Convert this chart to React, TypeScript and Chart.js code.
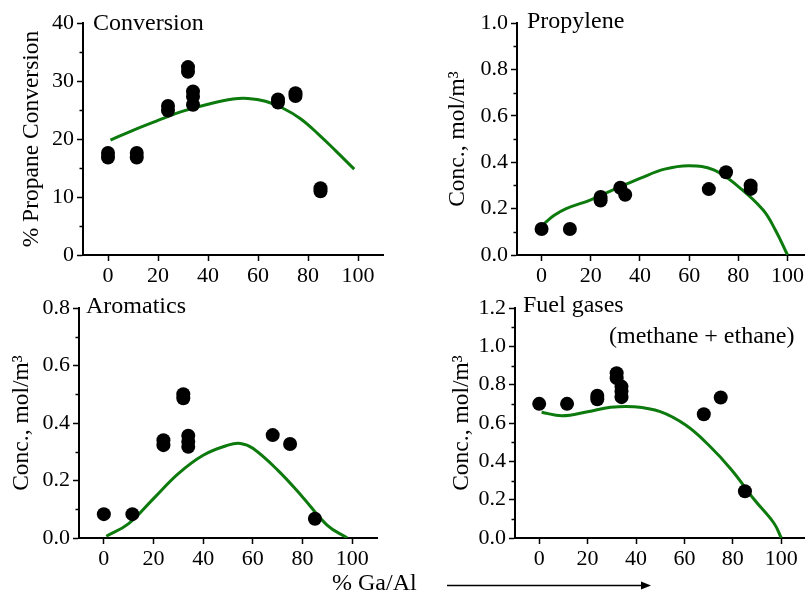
import React, { useEffect, useRef } from "react";
import { Chart, registerables } from "chart.js";

Chart.register(...registerables);

const FONT = "'Liberation Serif', 'Times New Roman', Times, serif";
const GREEN = "#0d7a0d";

const xTickValues = [0, 20, 40, 60, 80, 100];

// Panel 1: propane conversion (%)
const convX = [0, 0, 11.5, 11.5, 24, 24, 32, 32, 34, 34, 34, 68, 68, 75, 75, 85, 85];
const convY = [17.6, 16.8, 17.6, 16.8, 25.7, 24.9, 32.4, 31.6, 28.2, 27.3, 25.9, 26.8, 26.3, 27.9, 27.4, 11.5, 11.0];
const convFitX = [1, 10, 20, 30, 40, 50, 56, 63, 70, 77, 84, 91, 98.5];
const convFitY = [19.8, 21.5, 23.2, 24.8, 26.0, 26.9, 27.0, 26.5, 25.3, 23.5, 20.9, 18.0, 14.8];

// Panel 2: propylene (mol/m3)
const propX = [0, 11.5, 24, 24, 32, 34, 68, 75, 85, 85];
const propY = [0.112, 0.112, 0.25, 0.235, 0.29, 0.26, 0.284, 0.357, 0.3, 0.285];
const propFitX = [1, 5, 10, 20, 30, 40, 50, 60, 70, 80, 90, 95, 100];
const propFitY = [0.135, 0.17, 0.2, 0.238, 0.285, 0.33, 0.37, 0.385, 0.367, 0.295, 0.195, 0.109, 0.0];

// Panel 3: aromatics (mol/m3)
const aroX = [0, 11.5, 24, 24, 32, 32, 34, 34, 34, 68, 75, 85];
const aroY = [0.083, 0.083, 0.34, 0.323, 0.5, 0.486, 0.356, 0.335, 0.317, 0.358, 0.327, 0.067];
const aroFitX = [1, 10, 20, 30, 40, 50, 55, 60, 70, 80, 90, 98];
const aroFitY = [0.006, 0.05, 0.137, 0.224, 0.288, 0.323, 0.329, 0.312, 0.236, 0.143, 0.044, 0.0];

// Panel 4: fuel gases (mol/m3)
const fuelX = [0, 11.5, 24, 24, 32, 32, 34, 34, 34, 68, 75, 85];
const fuelY = [0.7, 0.7, 0.742, 0.724, 0.86, 0.834, 0.79, 0.764, 0.735, 0.646, 0.733, 0.244];
const fuelFitX = [1, 9.5, 20, 29.5, 39, 50, 60.5, 70, 79.5, 89, 97, 100];
const fuelFitY = [0.656, 0.638, 0.659, 0.682, 0.685, 0.659, 0.589, 0.485, 0.355, 0.198, 0.077, 0.0];

type Label = { text: string; dx: number; dy: number };
type Spec = {
  left: number; top: number; width: number; height: number;
  yAxisWidth: number; padTop: number; xAxisHeight: number; padRight: number;
  xMin: number; xMax: number; yMax: number; yStep: number; decimals: number;
  yTitle: string; titleCenter: number; labels: Label[];
  px: number[]; py: number[]; fx: number[]; fy: number[];
};

const specs: Spec[] = [
  {
    left: 0, top: 0, width: 400, height: 290,
    yAxisWidth: 83, padTop: 23, xAxisHeight: 35, padRight: 17,
    xMin: -10, xMax: 110, yMax: 40, yStep: 10, decimals: 0,
    yTitle: "% Propane Conversion", titleCenter: 32,
    labels: [{ text: "Conversion", dx: 10, dy: 7 }],
    px: convX, py: convY, fx: convFitX, fy: convFitY,
  },
  {
    left: 400, top: 0, width: 411, height: 290,
    yAxisWidth: 117, padTop: 23, xAxisHeight: 35, padRight: 0,
    xMin: -10, xMax: 106.7, yMax: 1.0, yStep: 0.2, decimals: 1,
    yTitle: "Conc., mol/m³", titleCenter: 58,
    labels: [{ text: "Propylene", dx: 10, dy: 5 }],
    px: propX, py: propY, fx: propFitX, fy: propFitY,
  },
  {
    left: 0, top: 290, width: 400, height: 304,
    yAxisWidth: 79, padTop: 18, xAxisHeight: 56, padRight: 23,
    xMin: -10, xMax: 110, yMax: 0.8, yStep: 0.2, decimals: 1,
    yTitle: "Conc., mol/m³", titleCenter: 22,
    labels: [{ text: "Aromatics", dx: 7, dy: 5 }],
    px: aroX, py: aroY, fx: aroFitX, fy: aroFitY,
  },
  {
    left: 400, top: 290, width: 411, height: 304,
    yAxisWidth: 115, padTop: 18, xAxisHeight: 56, padRight: 0,
    xMin: -10, xMax: 109.4, yMax: 1.2, yStep: 0.2, decimals: 1,
    yTitle: "Conc., mol/m³", titleCenter: 62,
    labels: [
      { text: "Fuel gases", dx: 8, dy: 4 },
      { text: "(methane + ethane)", dx: 94, dy: 35 },
    ],
    px: fuelX, py: fuelY, fx: fuelFitX, fy: fuelFitY,
  },
];

function Panel({ spec }: { spec: Spec }) {
  const ref = useRef<HTMLCanvasElement | null>(null);
  useEffect(() => {
    const s = spec;
    const decor = {
      id: "decor",
      afterDraw(chart: any) {
        const { ctx, chartArea, scales } = chart;
        const y = scales.y;
        ctx.save();
        ctx.strokeStyle = "#000";
        ctx.lineWidth = 1.5;
        const minor = s.yStep / 2;
        for (let i = 1; i * minor < s.yMax - 1e-9; i += 2) {
          const py = Math.round(y.getPixelForValue(i * minor)) + 0.5;
          ctx.beginPath();
          ctx.moveTo(chartArea.left - 3.5, py);
          ctx.lineTo(chartArea.left, py);
          ctx.stroke();
        }
        ctx.fillStyle = "#000";
        ctx.font = `24px ${FONT}`;
        ctx.textBaseline = "alphabetic";
        ctx.textAlign = "left";
        for (const l of s.labels) {
          ctx.fillText(l.text, chartArea.left + l.dx, chartArea.top + l.dy);
        }
        ctx.restore();
      },
    };
    const chart = new Chart(ref.current as HTMLCanvasElement, {
      type: "scatter",
      data: {
        datasets: [
          {
            data: s.px.map((x, i) => ({ x, y: s.py[i] })),
            backgroundColor: "#000",
            borderColor: "#000",
            pointRadius: 7,
            pointBorderWidth: 0,
            showLine: false,
          },
          {
            data: s.fx.map((x, i) => ({ x, y: s.fy[i] })),
            showLine: true,
            borderColor: GREEN,
            borderWidth: 3,
            pointRadius: 0,
            tension: 0.4,
            fill: false,
          },
        ],
      } as any,
      options: {
        animation: false,
        responsive: false,
        devicePixelRatio: 1,
        layout: { padding: { top: s.padTop, right: s.padRight, left: 0, bottom: 0 } },
        plugins: { legend: { display: false }, tooltip: { enabled: false } },
        scales: {
          x: {
            type: "linear",
            min: s.xMin,
            max: s.xMax,
            afterBuildTicks: (sc: any) => {
              sc.ticks = xTickValues.map((v) => ({ value: v }));
            },
            afterFit: (sc: any) => {
              sc.height = s.xAxisHeight;
            },
            grid: {
              display: true,
              drawOnChartArea: false,
              drawTicks: true,
              tickLength: 6,
              tickColor: "#000",
              tickWidth: 1.5,
            },
            border: { display: true, color: "#000", width: 2 },
            ticks: {
              color: "#000",
              font: { family: FONT, size: 22 },
              padding: 2,
              maxRotation: 0,
              autoSkip: false,
            },
          },
          y: {
            type: "linear",
            min: 0,
            max: s.yMax,
            afterFit: (sc: any) => {
              sc.width = s.yAxisWidth;
            },
            grid: {
              display: true,
              drawOnChartArea: false,
              drawTicks: true,
              tickLength: 6,
              tickColor: "#000",
              tickWidth: 1.5,
            },
            border: { display: true, color: "#000", width: 2 },
            ticks: {
              stepSize: s.yStep,
              color: "#000",
              font: { family: FONT, size: 22 },
              padding: 3,
              callback: (v: any) => Number(v).toFixed(s.decimals),
            },
            title: {
              display: true,
              text: s.yTitle,
              color: "#000",
              font: { family: FONT, size: 23.5, lineHeight: 1 },
              padding: { top: s.titleCenter - 11.75, bottom: 0 },
            },
          },
        },
      } as any,
      plugins: [decor],
    });
    return () => chart.destroy();
  }, [spec]);
  return (
    <canvas
      ref={ref}
      width={spec.width}
      height={spec.height}
      style={{
        position: "absolute",
        left: spec.left,
        top: spec.top,
        width: spec.width,
        height: spec.height,
      }}
    />
  );
}

export default function App() {
  return (
    <div
      style={{
        position: "absolute",
        left: 0,
        top: 0,
        width: 811,
        height: 594,
        overflow: "hidden",
        background: "#fff",
      }}
    >
      {specs.map((s, i) => (
        <Panel key={i} spec={s} />
      ))}
      <svg
        width={811}
        height={594}
        style={{ position: "absolute", left: 0, top: 0, pointerEvents: "none" }}
      >
        <text x={332} y={590} fontFamily={FONT} fontSize={24} fill="#000">
          % Ga/Al
        </text>
        <line x1={447} y1={585.5} x2={644} y2={585.5} stroke="#000" strokeWidth={1.5} />
        <polygon points="651,585.5 641,581.5 641,589.5" fill="#000" />
      </svg>
    </div>
  );
}
